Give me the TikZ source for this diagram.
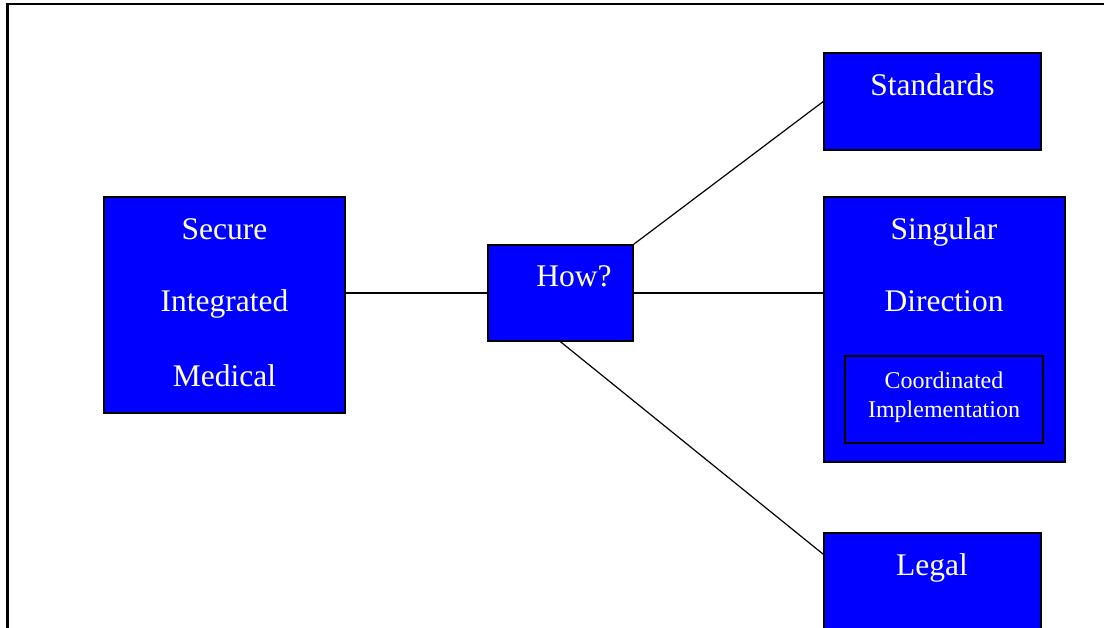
\documentclass[tikz,border=0pt]{standalone}
\usepackage{fontspec}
\setmainfont{Liberation Serif}
\usetikzlibrary{positioning}

\definecolor{boxblue}{RGB}{0,0,255}

\begin{document}
\begin{tikzpicture}[x=1pt, y=-1pt,
    box/.style={draw=black, line width=1.5pt, fill=boxblue, inner sep=0pt},
    txt/.style={text=white, anchor=base, inner sep=0pt, font=\fontsize{31.5}{36}\selectfont},
    smalltxt/.style={text=white, anchor=base, inner sep=0pt, font=\fontsize{24}{28}\selectfont}]
    \clip (0,0) rectangle (1104,628);
    % Frame
    \draw [line width=2.8pt] (7.5,700) -- (7.5,4) -- (1200,4);

    % Boxes {secure, how, std, sing, coord, legal}
    \node [box, minimum width=241pt, minimum height=216pt] (secure) at (224.5,305)  {};
    \node [box, minimum width=145pt, minimum height=96pt]  (how)    at (560.5,293)  {};
    \node [box, minimum width=217pt, minimum height=97pt]  (std)    at (932.5,101.5) {};
    \node [box, minimum width=241pt, minimum height=265pt] (sing)   at (944.5,329.5) {};
    \node [box, minimum width=198pt, minimum height=87pt]  (coord)  at (944,399.5)  {};
    \node [box, minimum width=217pt, minimum height=97pt]  (legal)  at (932.5,581.5) {};

    % Texts
    \node [txt] (secure1) at (224.5,240) {Secure};
    \node [txt] (secure2) at (224.5,312) {Integrated};
    \node [txt] (secure3) at (224.5,387) {Medical};
    \node [txt] (howtxt)  at (574,287)   {How?};
    \node [txt] (stdtxt)  at (932.5,96)  {Standards};
    \node [txt] (sing1)   at (944,240)   {Singular};
    \node [txt] (sing2)   at (944,312)   {Direction};
    \node [smalltxt] (coord1) at (944,389) {Coordinated};
    \node [smalltxt] (coord2) at (944,418) {Implementation};
    \node [txt] (legaltxt) at (932,575)  {Legal};

    % Paths
    \path [draw, line width=1.2pt] (how.west -| secure.east) -- (how.west);
    \path [draw, line width=1.2pt] (how.north east) -- (std.west);
    \path [draw, line width=1.2pt] (how.east) -- (how.east -| sing.west);
    \path [draw, line width=1.2pt] (how.south) -- ([yshift=-22pt]legal.north west);
\end{tikzpicture}
\end{document}
